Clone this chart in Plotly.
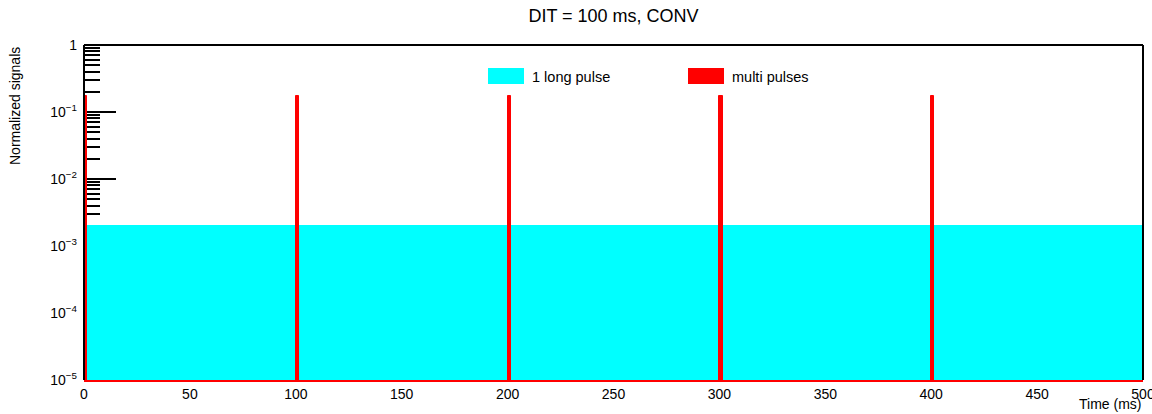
import plotly.graph_objects as go

# ---- data ----
long_pulse_start = [0]
long_pulse_length = [500]
long_pulse_level = [2.06e-3]

pulse_starts = [0, 100, 200, 300, 400]
pulse_heights = [0.173, 0.173, 0.173, 0.173, 0.173]
pulse_length = 1.5

x_ticks = [0, 50, 100, 150, 200, 250, 300, 350, 400, 450, 500]
y_ticks = [1e-5, 1e-4, 1e-3, 1e-2, 1e-1, 1]
y_ticktext = ["10<sup>\u22125</sup>", "10<sup>\u22124</sup>", "10<sup>\u22123</sup>",
              "10<sup>\u22122</sup>", "10<sup>\u22121</sup>", "1"]
y_minor = [k * 10.0 ** e for e in range(-5, 0) for k in range(2, 10)]

CYAN = "#00ffff"
RED = "#ff0000"
FONT = "Liberation Sans, Arial, Helvetica, sans-serif"

fig = go.Figure()
fig.add_trace(go.Bar(
    x=long_pulse_start, y=long_pulse_level, width=long_pulse_length, offset=0,
    marker=dict(color=CYAN, line=dict(width=0)), name="1 long pulse", showlegend=False,
))
fig.add_trace(go.Bar(
    x=pulse_starts, y=pulse_heights, width=[pulse_length] * len(pulse_starts), offset=0,
    marker=dict(color=RED, line=dict(color=RED, width=1)), name="multi pulses", showlegend=False,
))

fig.update_layout(
    width=1152, height=414,
    margin=dict(l=84, r=9, t=45, b=34, autoexpand=False),
    paper_bgcolor="white", plot_bgcolor="white",
    barmode="overlay", bargap=0,
    font=dict(family=FONT, size=14, color="black"),
    title=dict(text="DIT = 100 ms, CONV", x=(84 + 1143) / 2 / 1152, xanchor="center",
               y=1 - 16 / 414, yanchor="middle", font=dict(size=18)),
    xaxis=dict(range=[0, 500], tickvals=x_ticks, ticks="", showgrid=False, zeroline=False,
               showline=True, linecolor=RED, linewidth=2, layer="above traces",
               automargin=False, ticklabeloverflow="allow", tickfont=dict(size=14)),
    yaxis=dict(type="log", range=[-5, 0], tickmode="array", tickvals=y_ticks, ticktext=y_ticktext,
               ticks="inside", ticklen=32, tickwidth=1.5, tickcolor="black",
               minor=dict(tickmode="array", tickvals=y_minor, ticks="inside", ticklen=16,
                          tickwidth=1.5, tickcolor="black", showgrid=False),
               showgrid=False, zeroline=False, showline=False, layer="below traces",
               automargin=False, ticklabelstandoff=6, tickfont=dict(size=14)),
    showlegend=False,
)

# frame (top, left, right)
for x0, y0, x1, y1 in [(0, 1, 1, 1), (0, 0, 0, 1), (1, 0, 1, 1)]:
    fig.add_shape(type="line", xref="paper", yref="paper", x0=x0, y0=y0, x1=x1, y1=y1,
                  line=dict(color="black", width=2), layer="above")

# legend boxes drawn like ROOT
legend_items = [("1 long pulse", CYAN, 488), ("multi pulses", RED, 688)]
for label, col, px in legend_items:
    fig.add_shape(type="rect", xref="paper", yref="paper",
                  x0=(px - 84) / 1059, x1=(px + 36 - 84) / 1059,
                  y0=1 - (84 - 45) / 335, y1=1 - (68 - 45) / 335,
                  fillcolor=col, line=dict(width=0), layer="above")
    fig.add_annotation(text=label, xref="paper", yref="paper",
                       x=(px + 42 - 84) / 1059, y=1 - (76.5 - 45) / 335,
                       xanchor="left", yanchor="middle", showarrow=False,
                       font=dict(size=14.5))

# axis titles (ROOT style placement)
fig.add_annotation(text="Time (ms)", xref="paper", yref="paper", x=1, y=(380 - 404) / 335,
                   xanchor="right", yanchor="middle", showarrow=False, font=dict(size=14))
fig.add_annotation(text="Normalized signals", xref="paper", yref="paper", x=(15 - 84) / 1059,
                   y=1, xanchor="center", yanchor="top", textangle=-90, showarrow=False,
                   font=dict(size=14))

fig.write_html("out.html")
